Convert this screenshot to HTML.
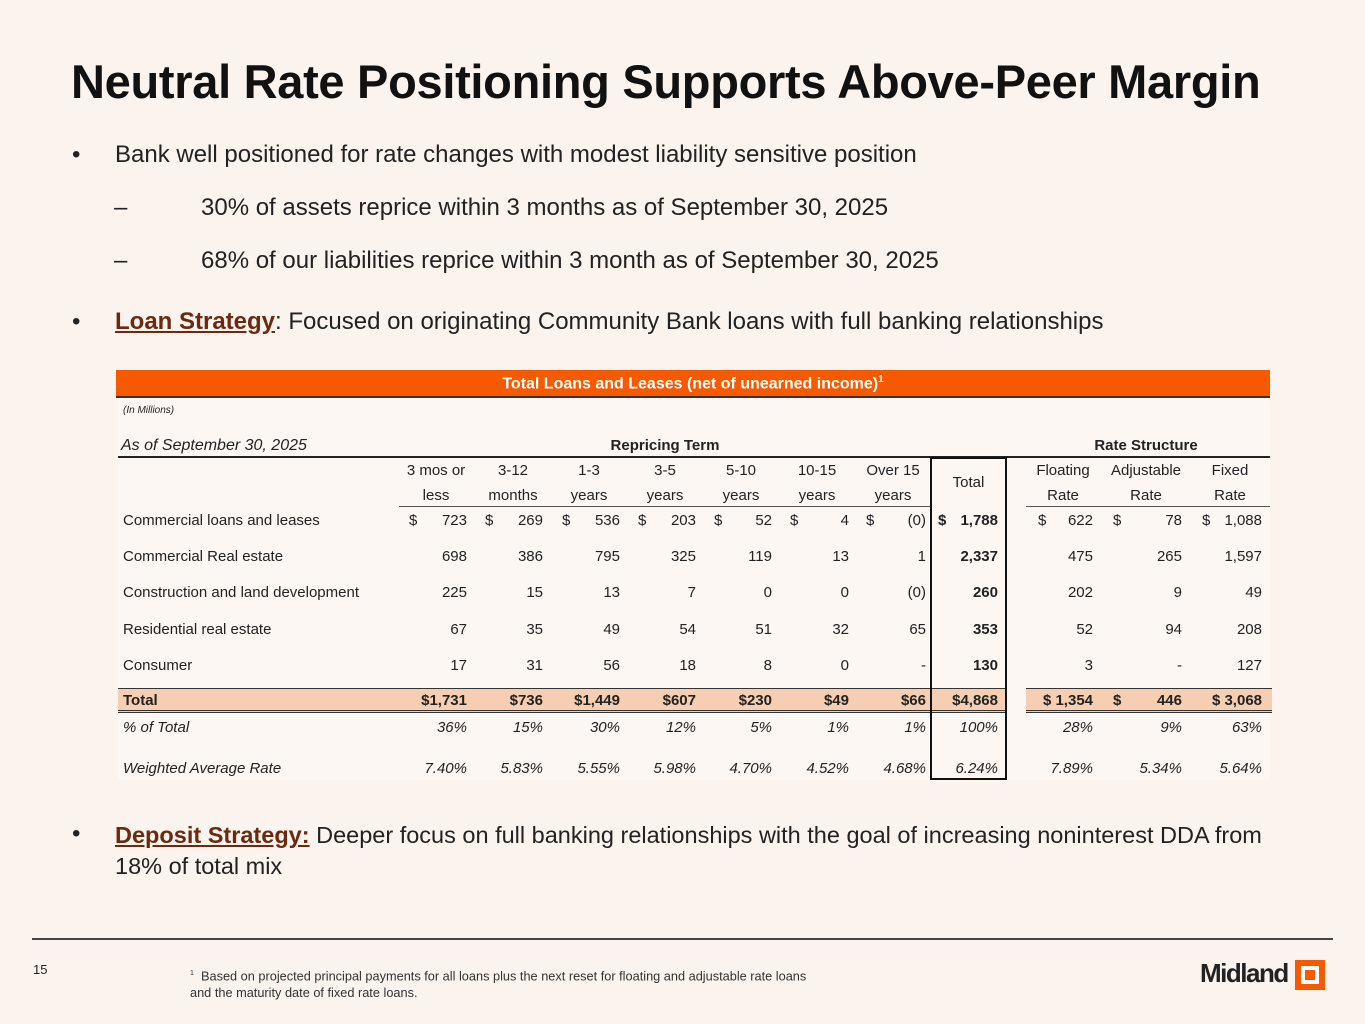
<!DOCTYPE html>
<html><head><meta charset="utf-8">
<style>
*{margin:0;padding:0;box-sizing:border-box}
body{width:1365px;height:1024px;background:#faf3ee;position:relative;overflow:hidden;font-family:"Liberation Sans",Arial,sans-serif;color:#222}
.a{position:absolute;white-space:nowrap}
.t{font-size:15px;line-height:18px}
.r{text-align:right}
.c{text-align:center}
.b{font-weight:bold}
.i{font-style:italic}
.bul{font-size:24px;color:#222}
</style></head><body>
<div class="a b" style="left:71px;top:54px;font-size:47px;color:#111;letter-spacing:-0.3px">Neutral Rate Positioning Supports Above-Peer Margin</div>

<div class="a bul" style="left:72px;top:141px">•</div>
<div class="a bul" style="left:115px;top:141px">Bank well positioned for rate changes with modest liability sensitive position</div>
<div class="a bul" style="left:114px;top:194px">–</div>
<div class="a bul" style="left:201px;top:194px">30% of assets reprice within 3 months as of September 30, 2025</div>
<div class="a bul" style="left:114px;top:247px">–</div>
<div class="a bul" style="left:201px;top:247px">68% of our liabilities reprice within 3 month as of September 30, 2025</div>
<div class="a bul" style="left:72px;top:308px">•</div>
<div class="a bul" style="left:115px;top:308px"><span style="font-weight:bold;text-decoration:underline;color:#6b2a10">Loan Strategy</span>: Focused on originating Community Bank loans with full banking relationships</div>

<div class="a" style="left:118px;top:398px;width:1152px;height:382px;background:#fdf7f3"></div>
<div class="a" style="left:116px;top:370px;width:1154px;height:28px;background:#f55a00;border-bottom:2px solid #333"></div>
<div class="a b c" style="left:116px;top:374px;width:1154px;font-size:16px;color:#fff">Total Loans and Leases (net of unearned income)<sup style="font-size:10px">1</sup></div>
<div class="a i" style="left:123px;top:405px;font-size:10px">(In Millions)</div>
<div class="a i t" style="left:121px;top:437px;font-size:16px">As of September 30, 2025</div>
<div class="a b t c" style="left:565px;top:437px;width:200px">Repricing Term</div>
<div class="a b t c" style="left:1046px;top:437px;width:200px">Rate Structure</div>
<div class="a" style="left:118px;top:456px;width:1152px;height:2px;background:#222"></div>
<div class="a" style="left:399px;top:506px;width:531px;height:1px;background:#555"></div>
<div class="a" style="left:1026px;top:506px;width:244px;height:1px;background:#555"></div>

<div class="a" style="left:118px;top:688px;width:888px;height:25px;background:#f6cfb2;border-top:1px solid #333;border-bottom:3px double #333"></div>
<div class="a" style="left:1026px;top:688px;width:246px;height:25px;background:#f6cfb2;border-top:1px solid #333;border-bottom:3px double #333"></div>
<div class="a" style="left:930px;top:457px;width:77px;height:323px;border:2px solid #111"></div>

<div id="tbl"></div>

<div class="a bul" style="left:72px;top:820px">•</div>
<div class="a bul" style="left:115px;top:820px;font-size:23.5px;line-height:31px;white-space:normal;width:1180px"><span style="font-weight:bold;text-decoration:underline;color:#6b2a10">Deposit Strategy:</span> Deeper focus on full banking relationships with the goal of increasing noninterest DDA from 18% of total mix</div>

<div class="a" style="left:32px;top:938px;width:1301px;height:2px;background:#444"></div>
<div class="a" style="left:33px;top:962px;font-size:13px">15</div>
<div class="a" style="left:190px;top:965px;font-size:12.75px;line-height:17px;color:#333"><sup style="font-size:7px">1</sup>&nbsp; Based on projected principal payments for all loans plus the next reset for floating and adjustable rate loans<br>and the maturity date of fixed rate loans.</div>
<div class="a b" style="left:1200px;top:958px;font-size:26px;letter-spacing:-1.5px;color:#222">Midland</div>
<div class="a" style="left:1295px;top:960px;width:30px;height:30px;border:6px solid #f55a00;background:#fff"><div style="position:absolute;left:4px;top:4px;width:10px;height:10px;background:#f55a00"></div></div>

<script>
const headTop=["3 mos or","3-12","1-3","3-5","5-10","10-15","Over 15","Floating","Adjustable","Fixed"];
const headBot=["less","months","years","years","years","years","years","Rate","Rate","Rate"];
const headCenters=[436,513,589,665,741,817,893,1063,1146,1230];
const rowLabels=["Commercial loans and leases","Commercial Real estate","Construction and land development","Residential real estate","Consumer","Total","% of Total","Weighted Average Rate"];
const rowValues=[
["723","269","536","203","52","4","(0)","1,788","622","78","1,088"],
["698","386","795","325","119","13","1","2,337","475","265","1,597"],
["225","15","13","7","0","0","(0)","260","202","9","49"],
["67","35","49","54","51","32","65","353","52","94","208"],
["17","31","56","18","8","0","-","130","3","-","127"],
["$1,731","$736","$1,449","$607","$230","$49","$66","$4,868","$ 1,354","446","$ 3,068"],
["36%","15%","30%","12%","5%","1%","1%","100%","28%","9%","63%"],
["7.40%","5.83%","5.55%","5.98%","4.70%","4.52%","4.68%","6.24%","7.89%","5.34%","5.64%"]];
const rowY=[512,548,584,621,657,692,719,760];
const colRight=[467,543,620,696,772,849,926,998,1093,1182,1262];
const dollarLeft=[409,485,562,638,714,790,866,938,1038,1113,1202];
const T=document.getElementById('tbl');
function mk(txt,cls,x,y,w,st){const d=document.createElement('div');d.className='a t '+cls;d.textContent=txt;d.style.left=x+'px';d.style.top=y+'px';if(w)d.style.width=w+'px';if(st)d.style.cssText+=st;T.appendChild(d);return d;}
headTop.forEach((h,i)=>{
  const d=mk(h,'c',headCenters[i]-50,462,100);
  
  
  const e=mk(headBot[i],'c',headCenters[i]-50,487,100);
  
  
});
const tot=mk('Total','c',930,474,77);


rowLabels.forEach((lab,r)=>{
  const y=rowY[r];
  const cls=(r==5?'b':'')+(r>=6?' i':'');
  const l=mk(lab,cls,123,y);
  
  
  rowValues[r].forEach((v,c)=>{
    let c2=cls;
    if(c==7&&r<5)c2+=' b';
    const d=mk(v,'r '+c2,colRight[c]-110,y,110);
    
    
    if(r==0||(r==5&&c==9)){
      const s=mk('$',(r==5||c==7)?'b':'',dollarLeft[c],y);
      
      
    }
  });
});
</script>
</body></html>
